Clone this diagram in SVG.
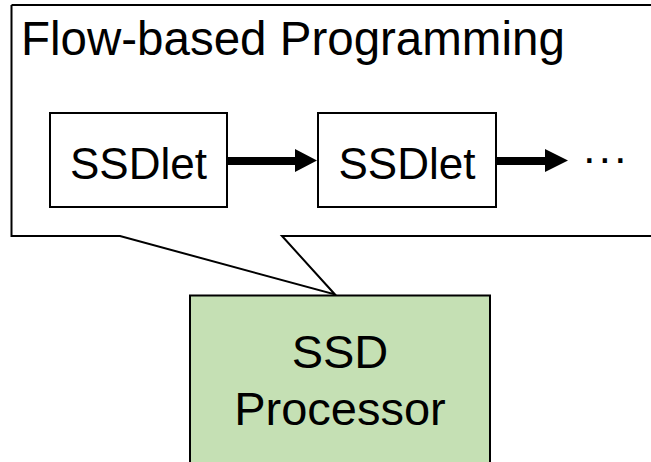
<svg xmlns="http://www.w3.org/2000/svg" width="651" height="462" viewBox="0 0 651 462">
<style>
text{font-family:"Liberation Sans",Arial,sans-serif;fill:#000}
.box{fill:#fff;stroke:#000;stroke-width:2}
.lbl{font-size:44px;text-anchor:middle}
.big{font-size:47px}
.arrow{fill:#000;stroke:none}
</style>
<g id="callout">
<path d="M11.5,5 L651,5 M11.5,5 L11.5,236 L120,236 L335,294.5 L282,236 L651,236" fill="#fff" stroke="#000" stroke-width="2"/>
<text x="21" y="55" style="font-size:47.5px">Flow-based Programming</text>
</g>
<g id="processor">
<rect x="190" y="295.5" width="300" height="180" fill="#c5e0b4" stroke="#000" stroke-width="2"/>
<text class="big" x="340" y="368" text-anchor="middle">SSD</text>
<text class="big" x="340" y="425" text-anchor="middle">Processor</text>
</g>
<g id="ssdlet1">
<rect class="box" x="50" y="113" width="177" height="94"/>
<text class="lbl" x="138.5" y="179">SSDlet</text>
</g>
<g id="ssdlet2">
<rect class="box" x="318" y="113" width="178" height="94"/>
<text class="lbl" x="407" y="179">SSDlet</text>
</g>
<g id="more">
<text x="582" y="173" style="font-size:44px;letter-spacing:0.8px">···</text>
</g>
<g id="connectors">
<path class="arrow" d="M228,157 L295,157 L295,149 L317,160.5 L295,172 L295,165 L228,165 Z"/>
<path class="arrow" d="M497,157 L545,157 L545,149 L568,160.5 L545,172 L545,165 L497,165 Z"/>
</g>
</svg>
